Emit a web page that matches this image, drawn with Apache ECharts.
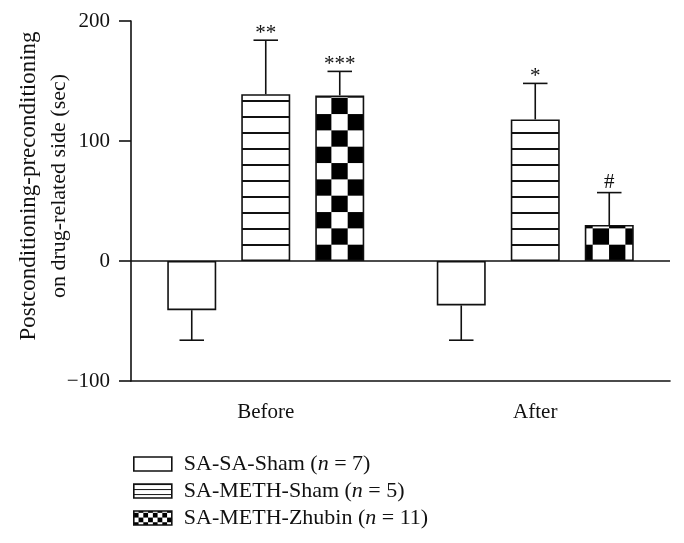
<!DOCTYPE html>
<html>
<head>
<meta charset="utf-8">
<script src="https://cdn.jsdelivr.net/npm/echarts@6/dist/echarts.min.js"></script>
<style>
  html, body { margin: 0; padding: 0; background: #fff; }
  #chart { width: 684px; height: 543px; }
</style>
</head>
<body>
<div id="chart"></div>
<script>
// data
const categories = ['Before', 'After']
const groupNames = ['SA-SA-Sham', 'SA-METH-Sham', 'SA-METH-Zhubin']
const groupN = [7, 5, 11]
const shamMean = [-41, -37]
const methMean = [139, 118]
const zhubinMean = [138, 30]
const shamErr = [25, 29]
const methErr = [45, 30]
const zhubinErr = [20, 27]
const shamSig = ['', '']
const methSig = ['**', '*']
const zhubinSig = ['***', '#']
const yTicks = [-100, 0, 100, 200]

const means = [shamMean, methMean, zhubinMean]
const errs = [shamErr, methErr, zhubinErr]
const sigs = [shamSig, methSig, zhubinSig]

const FONT = '"Liberation Serif", "DejaVu Serif", serif'
const BAR_W = 49
const BAR_GAP = 25

// fill patterns
function stripeTile(h, lineY, lineH) {
  const c = document.createElement('canvas')
  c.width = 16; c.height = h
  const ctx = c.getContext('2d')
  ctx.fillStyle = '#fff'
  ctx.fillRect(0, 0, 16, h)
  ctx.fillStyle = '#111'
  ctx.fillRect(0, lineY, 16, lineH)
  return c
}
function checkerTile(cell) {
  const c = document.createElement('canvas')
  c.width = cell * 2; c.height = cell * 2
  const ctx = c.getContext('2d')
  ctx.fillStyle = '#fff'
  ctx.fillRect(0, 0, cell * 2, cell * 2)
  ctx.fillStyle = '#000'
  ctx.fillRect(0, cell, cell, cell)
  ctx.fillRect(cell, 0, cell, cell)
  return c
}

const fills = [
  '#fff',
  { image: stripeTile(16, 4, 2), repeat: 'repeat', x: 0, y: 0 },
  { image: checkerTile(16), repeat: 'repeat', x: 315, y: 261, scaleX: 49 / 48, scaleY: 49 / 48 }
]
// smaller versions for the legend keys
const legendFills = [
  '#fff',
  { image: stripeTile(5, 2, 1), repeat: 'repeat', x: 0, y: 483 },
  { image: checkerTile(5), repeat: 'repeat', x: 133, y: 510, scaleX: 0.95, scaleY: 0.95 }
]

const chart = echarts.init(document.getElementById('chart'))

const barSeries = groupNames.map((name, i) => ({
  name: name,
  type: 'bar',
  data: means[i],
  barWidth: BAR_W,
  barGap: (BAR_GAP / BAR_W * 100) + '%',
  itemStyle: { color: fills[i], borderColor: '#111', borderWidth: 1.6 },
  emphasis: { disabled: true },
  z: 2,
  markLine: i === 0 ? {
    silent: true,
    symbol: ['none', 'none'],
    label: { show: false },
    lineStyle: { color: '#111', width: 1.6, type: 'solid' },
    data: [{ yAxis: 0 }]
  } : undefined
}))

const errSeries = groupNames.map((name, i) => ({
  type: 'custom',
  name: name + ' err',
  z: 3,
  silent: true,
  data: means[i].map((m, k) => [k, m, errs[i][k]]),
  renderItem: function (params, api) {
    const k = api.value(0)
    const m = api.value(1)
    const e = api.value(2)
    const end = m >= 0 ? m + e : m - e
    const dx = (i - 1) * (BAR_W + BAR_GAP)
    const p0 = api.coord([k, m])
    const p1 = api.coord([k, end])
    const x = p0[0] + dx
    const half = BAR_W / 4
    const style = { stroke: '#111', lineWidth: 1.6 }
    const children = [
      { type: 'line', shape: { x1: x, y1: p0[1], x2: x, y2: p1[1] }, style: style },
      { type: 'line', shape: { x1: x - half, y1: p1[1], x2: x + half, y2: p1[1] }, style: style }
    ]
    const s = sigs[i][k]
    if (s) {
      // asterisks sit high in the em box, so push them down a little
      const shift = s.indexOf('*') >= 0 ? 6 : 2
      children.push({
        type: 'text',
        style: {
          text: s, x: x, y: p1[1] - 2 + shift,
          align: 'center', verticalAlign: 'bottom',
          fontFamily: FONT, fontSize: 21, fill: '#111'
        }
      })
    }
    return { type: 'group', children: children }
  }
}))

chart.setOption({
  animation: false,
  backgroundColor: '#fff',
  grid: { left: 131, right: 14, top: 21, bottom: 162, outerBoundsMode: 'none', containLabel: false },
  legend: {
    orient: 'vertical',
    left: 133,
    top: 453,
    padding: 0,
    icon: 'rect',
    itemWidth: 38,
    itemHeight: 14,
    itemGap: 5,
    data: groupNames.map((name, i) => ({
      name: name,
      itemStyle: { color: legendFills[i], borderColor: '#111', borderWidth: 1.6 }
    })),
    selectedMode: false,
    formatter: function (name) {
      const i = groupNames.indexOf(name)
      return name + ' ({i|n} = ' + groupN[i] + ')'
    },
    textStyle: {
      fontFamily: FONT, fontSize: 22, color: '#111', lineHeight: 22, padding: [0, 0, 0, 7],
      rich: { i: { fontFamily: FONT, fontSize: 22, lineHeight: 22, fontStyle: 'italic', color: '#111' } }
    }
  },
  xAxis: {
    type: 'category',
    data: categories,
    axisLine: { onZero: false, lineStyle: { color: '#111', width: 1.6 } },
    axisTick: { alignWithLabel: true, length: 12, lineStyle: { color: '#111', width: 1.6 } },
    axisLabel: { margin: 21, fontFamily: FONT, fontSize: 21, color: '#111' }
  },
  yAxis: {
    type: 'value',
    min: yTicks[0],
    max: yTicks[yTicks.length - 1],
    interval: 100,
    name: '{a|Postconditioning-preconditioning}\n{b|on drug-related side (sec)}',
    nameLocation: 'middle',
    nameGap: 57,
    nameMoveOverlap: false,
    nameTextStyle: {
      color: '#111', padding: [0, 0, 0, 30],
      rich: {
        a: { fontFamily: FONT, fontSize: 23, lineHeight: 30, color: '#111' },
        b: { fontFamily: FONT, fontSize: 22, lineHeight: 30, color: '#111' }
      }
    },
    axisLine: { show: true, lineStyle: { color: '#111', width: 1.6 } },
    axisTick: { show: true, length: 12, lineStyle: { color: '#111', width: 1.6 } },
    axisLabel: {
      margin: 21, fontFamily: FONT, fontSize: 21, color: '#111',
      formatter: v => (v < 0 ? '\u2212' + Math.abs(v) : String(v))
    },
    splitLine: { show: false }
  },
  series: barSeries.concat(errSeries)
})
</script>
</body>
</html>
